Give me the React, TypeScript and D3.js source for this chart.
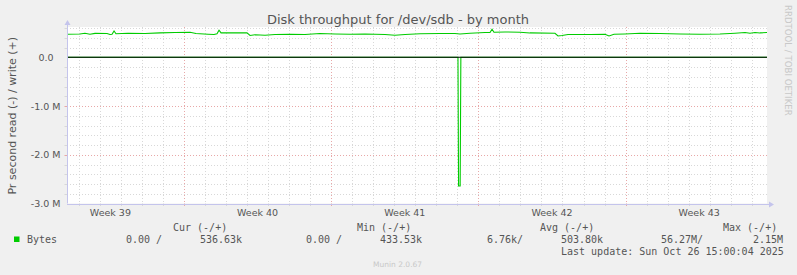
import React from 'react';
import * as d3 from 'd3';

// ---------- data ----------
const startTime = Date.UTC(2025, 8, 23, 10, 30);
const spanHours = 798.9;

const writeHours = [
  0, 14.8, 20.5, 26.2, 32.0, 45.7, 49.1, 51.4, 53.7, 55.9, 69.6, 89.0, 106.1, 123.3, 140.4,
  147.2, 160.9, 167.8, 171.2, 173.5, 175.8, 197.4, 205.4, 208.9, 214.6, 226.0, 237.4, 254.5,
  271.6, 288.7, 305.9, 323.0, 340.1, 362.9, 374.3, 385.8, 391.5, 402.9, 425.7, 442.8, 448.5,
  459.9, 477.1, 482.8, 485.1, 487.3, 499.9, 517.0, 528.4, 556.9, 560.4, 564.9, 571.8, 596.9,
  614.0, 618.6, 624.3, 636.8, 653.9, 676.8, 699.6, 722.4, 745.2, 762.4, 773.8, 779.5, 785.2,
  790.9, 798.9,
];
const writeValuesK = [
  472, 478, 493, 472, 489, 487, 466, 472, 540, 482, 493, 487, 499, 507, 513,
  487, 472, 466, 482, 554, 499, 499, 499, 446, 462, 452, 466, 472,
  466, 487, 478, 472, 478, 466, 452, 466, 472, 482, 487, 487, 478,
  493, 507, 507, 575, 513, 519, 513, 499, 493, 437, 446, 466, 466,
  472, 437, 472, 478, 493, 487, 478, 472, 478, 493, 507, 493, 507,
  499, 507,
];

const readHours = [0, 446.2, 446.9, 448.7, 449.5, 798.9];
const readValuesK = [0, 0, -2640, -2640, 0, 0];

const yTickValues = [0, -1e6, -2e6, -3e6];
const yTickLabels = ['0.0', '-1.0 M', '-2.0 M', '-3.0 M'];

const titleText = 'Disk throughput for /dev/sdb - by month';
const yAxisTitle = 'Pr second read (-) / write (+)';
const legendHeaders = ['Cur (-/+)', 'Min (-/+)', 'Avg (-/+)', 'Max (-/+)'];
const legendSeries = 'Bytes';
const legendValues = ['0.00 /', '536.63k', '0.00 /', '433.53k', '6.76k/', '503.80k', '56.27M/', '2.15M'];
const lastUpdate = 'Last update: Sun Oct 26 15:00:04 2025';
const footer = 'Munin 2.0.67';
const watermark = 'RRDTOOL / TOBI OETIKER';

// ---------- layout ----------
const W = 797, H = 275;
const PL = 67, PR = 767, PT = 28, PB = 203.5;
const headerX = [173, 357, 540, 723];
const valueX = [126, 200, 306, 380, 487, 561, 661, 753];

const GREEN = '#00cc00';
const TEXT = '#555';
const AXIS = '#c4c4ec';
const MINOR = '#d8d8d8';
const MAJOR = '#e8a8a8';

export default function App() {
  const t0 = new Date(startTime);
  const tEnd = new Date(startTime + spanHours * 3600e3);
  const x = d3.scaleUtc().domain([t0, tEnd]).range([PL, PR]);
  const y = d3.scaleLinear().domain([-3e6, 0.6e6]).range([PB, PT]);

  const toDate = (h: number) => new Date(startTime + h * 3600e3);
  const writePts = writeHours.map((h, i) => [toDate(h), writeValuesK[i] * 1000] as [Date, number]);
  const readPts = readHours.map((h, i) => [toDate(h), readValuesK[i] * 1000] as [Date, number]);
  const line = d3.line<[Date, number]>().x(d => x(d[0])).y(d => y(d[1]));

  const days = d3.utcDay.range(d3.utcDay.ceil(t0), tEnd);
  const mondays = d3.utcMonday.range(d3.utcMonday.floor(t0), d3.utcMonday.offset(tEnd, 1));
  const weekLabels = mondays
    .map(m => {
      const mid = new Date(m.getTime() + 3.5 * 86400e3);
      return { pos: x(mid), label: 'Week ' + d3.utcFormat('%V')(m) };
    })
    .filter(d => d.pos > PL && d.pos < PR);

  const minorY: number[] = [];
  for (let k = -15; k <= 3; k++) {
    if (k % 5 !== 0) minorY.push(k * 0.2e6);
  }

  return (
    <svg width={W} height={H} style={{ display: 'block', position: 'absolute', left: 0, top: 0 }}
      fontFamily="DejaVu Sans, sans-serif">
      <rect width={W} height={H} fill="#f0f0f0" />
      <rect x={PL} y={PT - 1} width={PR - PL} height={PB - PT + 1} fill="#fff" />

      {/* horizontal grid */}
      {minorY.map(v => (
        <line key={'hy' + v} x1={PL} x2={PR + 1} y1={Math.round(y(v)) + 0.5} y2={Math.round(y(v)) + 0.5}
          stroke={MINOR} strokeDasharray="1,2" />
      ))}
      {[-1e6, -2e6].map(v => (
        <line key={'hM' + v} x1={PL} x2={PR + 1} y1={Math.round(y(v)) + 0.5} y2={Math.round(y(v)) + 0.5}
          stroke={MAJOR} strokeDasharray="1,2" />
      ))}
      {/* vertical grid */}
      {days.map(d => {
        const isMon = d.getUTCDay() === 1;
        const px = Math.round(x(d)) + 0.5;
        return (
          <g key={'d' + d.getTime()}>
            <line x1={px} x2={px} y1={PT - 1} y2={PB} stroke={isMon ? MAJOR : MINOR} strokeDasharray="1,2" />
            <line x1={px} x2={px} y1={PB} y2={PB + 2.5} stroke={isMon ? MAJOR : MINOR} />
          </g>
        );
      })}
      {/* y ticks on axis */}
      {[...minorY, -1e6, -2e6].map(v => (
        <line key={'yt' + v} x1={PL - 2.5} x2={PL} y1={Math.round(y(v)) + 0.5} y2={Math.round(y(v)) + 0.5}
          stroke={[-1e6, -2e6].includes(v) ? MAJOR : MINOR} />
      ))}

      {/* series */}
      <path d={line(readPts) || ''} fill="none" stroke={GREEN} strokeWidth={1.1} />
      <path d={line(writePts) || ''} fill="none" stroke={GREEN} strokeWidth={1.1} />
      <line x1={PL} x2={PR} y1={y(0)} y2={y(0)} stroke="#000" strokeWidth={1.2} />

      {/* axes */}
      <line x1={PL + 0.5} x2={PL + 0.5} y1={PB} y2={PT - 5} stroke={AXIS} />
      <path d={`M${PL - 2.5},${PT - 3} L${PL + 3.5},${PT - 3} L${PL + 0.5},${PT - 8} Z`} fill={AXIS} />
      <line x1={PL} x2={PR + 4} y1={Math.round(PB) + 0.5} y2={Math.round(PB) + 0.5} stroke={AXIS} />
      <path d={`M${PR + 2},${Math.round(PB) - 2.5} L${PR + 2},${Math.round(PB) + 3.5} L${PR + 7},${Math.round(PB) + 0.5} Z`} fill={AXIS} />

      {/* y labels */}
      {yTickValues.map((v, i) => (
        <text key={'yl' + v} x={v === 0 ? 53.5 : 60.5} y={y(v) + 3.5} textAnchor="end" fontSize={9.5} fill={TEXT}>
          {yTickLabels[i]}
        </text>
      ))}
      {/* x labels */}
      {weekLabels.map(w => (
        <text key={w.label} x={w.pos} y={216} textAnchor="middle" fontSize={9.5} fill={TEXT}>{w.label}</text>
      ))}

      {/* title */}
      <text x={398} y={24} textAnchor="middle" fontSize={13} fill={TEXT}>{titleText}</text>
      <text transform={`translate(15.5,${(PT + PB) / 2}) rotate(-90)`} textAnchor="middle" fontSize={11} fill={TEXT}>
        {yAxisTitle}
      </text>
      <text transform="translate(784.5,5) rotate(90)" fontSize={8.6} fill="#c8c8c8">{watermark}</text>

      {/* legend */}
      <g fontFamily="DejaVu Sans Mono, monospace" fontSize={10} fill={TEXT}>
        {legendHeaders.map((h, i) => (
          <text key={h} x={headerX[i]} y={231}>{h}</text>
        ))}
        <rect x={14} y={236.5} width={5.5} height={5.5} fill={GREEN} />
        <text x={27} y={243}>{legendSeries}</text>
        {legendValues.map((v, i) => (
          <text key={'lv' + i} x={valueX[i]} y={243} xmlSpace="preserve">{v}</text>
        ))}
        <text x={561} y={255}>{lastUpdate}</text>
      </g>
      <text x={373} y={267} fontSize={7.5} fill="#c8c8c8">{footer}</text>
    </svg>
  );
}
